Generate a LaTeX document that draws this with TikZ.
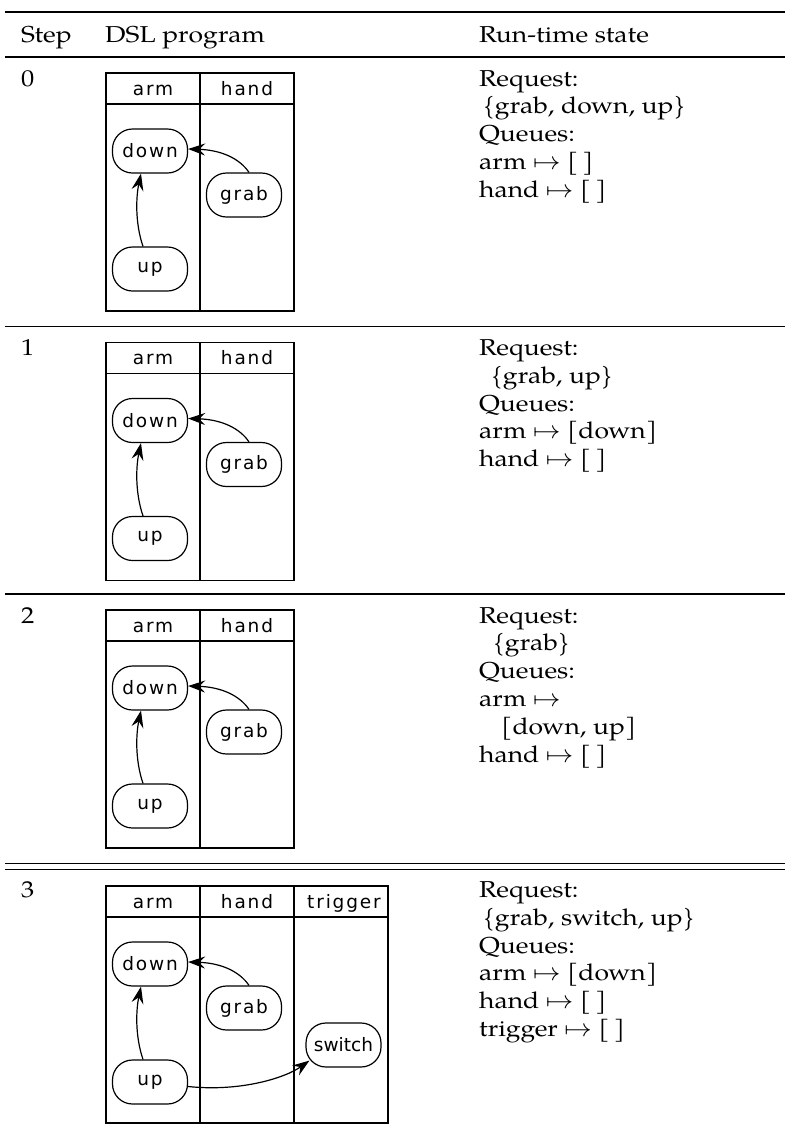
\documentclass[tikz,border=0pt]{standalone}
\usepackage{fontspec}
\usepackage{graphicx}
\setmainfont[FakeStretch=1.15]{TeX Gyre Pagella}
\newfontfamily\lanefont[LetterSpace=10]{DejaVu Sans}
\newfontfamily\tightlanefont{DejaVu Sans}
\usetikzlibrary{arrows.meta}

\newcommand\qmap{\scalebox{1.1}[1]{$\mapsto$}}

\tikzset{
  lane/.style={line width=1.4pt},
  act/.style={draw, line width=1.2pt, rounded corners=20pt, minimum width=75pt,
    minimum height=44pt, inner sep=0pt, font=\lanefont\fontsize{18.5}{20}\selectfont},
  lanehead/.style={anchor=base, inner sep=0pt, font=\lanefont\fontsize{18.5}{20}\selectfont},
  flow/.style={line width=1.2pt, -{Stealth[length=17pt,width=12pt,inset=6pt]}},
  cell/.style={anchor=base west, inner sep=0pt, font=\fontsize{23}{27.8}\selectfont},
  toprule/.style={line width=2pt},
  midrule/.style={line width=1.6pt},
  thinrule/.style={line width=1.3pt}
}

% swim-lane diagram with the arm and hand lanes; #1 = top edge, #2 = suffix
\newcommand\armhandlanes[2]{%
  \node[act] (down#2) at (150,#1+78) {down};
  \node[act] (grab#2) at (244,#1+122) {grab};
  \node[act] (up#2) at (150,#1+196) {up};
  \node[lanehead] (arm#2) at (153,#1+22) {arm};
  \node[lanehead] (hand#2) at (247,#1+22) {hand};
  \draw[flow] ([xshift=-7pt]up#2.north) .. controls (135,#1+150) and (136,#1+124) .. ([xshift=-9pt]down#2.south);
  \draw[flow] ([xshift=5pt]grab#2.north) .. controls (240,#1+86) and (222,#1+77) .. ([yshift=2pt]down#2.east);
}

\begin{document}
\begin{tikzpicture}[x=1pt,y=-1pt]
\useasboundingbox (0,0) rectangle (785,1133);

% table rules
\draw[toprule] (5,11.5) -- (785,11.5);
\draw[midrule] (5,57) -- (785,57);
\draw[midrule] (5,326.5) -- (785,326.5);
\draw[midrule] (5,594) -- (785,594);
\draw[thinrule] (5,863.5) -- (785,863.5);
\draw[thinrule] (5,869.5) -- (785,869.5);

% header
\node[cell] (hstep) at (21,42) {Step};
\node[cell] (hdsl) at (105,42) {DSL program};
\node[cell] (hstate) at (479,42) {Run-time state};

% step 0
\node[cell] (n0) at (21,86) {0};
\draw[lane] (106,73) rectangle (294,311);
\draw[lane] (106,104) -- (294,104);
\draw[lane] (200,73) -- (200,311);
\armhandlanes{73}{a}
\node[cell] (r0a) at (479,86) {Request:};
\node[cell] (r0b) at (483,113.8) {\{grab, down, up\}};
\node[cell] (r0c) at (479,141.6) {Queues:};
\node[cell] (r0d) at (479,169.4) {arm \qmap{} [\,]};
\node[cell] (r0e) at (479,197.2) {hand \qmap{} [\,]};

% step 1
\node[cell] (n1) at (21,355.5) {1};
\draw[lane] (106,342.5) rectangle (294,580.5);
\draw[lane] (106,373.5) -- (294,373.5);
\draw[lane] (200,342.5) -- (200,580.5);
\armhandlanes{342.5}{b}
\node[cell] (r1a) at (479,355.5) {Request:};
\node[cell] (r1b) at (491,383.3) {\{grab, up\}};
\node[cell] (r1c) at (479,411.1) {Queues:};
\node[cell] (r1d) at (479,438.9) {arm \qmap{} [down]};
\node[cell] (r1e) at (479,466.7) {hand \qmap{} [\,]};

% step 2
\node[cell] (n2) at (21,623) {2};
\draw[lane] (106,610) rectangle (294,848);
\draw[lane] (106,641) -- (294,641);
\draw[lane] (200,610) -- (200,848);
\armhandlanes{610}{c}
\node[cell] (r2a) at (479,623) {Request:};
\node[cell] (r2b) at (493,650.8) {\{grab\}};
\node[cell] (r2c) at (479,678.6) {Queues:};
\node[cell] (r2d) at (479,706.4) {arm \qmap};
\node[cell] (r2e) at (501,734.2) {[down, up]};
\node[cell] (r2f) at (479,762) {hand \qmap{} [\,]};

% step 3
\node[cell] (n3) at (21,897.5) {3};
\draw[lane] (106,886) rectangle (388,1123);
\draw[lane] (106,917) -- (388,917);
\draw[lane] (200,886) -- (200,1123);
\draw[lane] (294,886) -- (294,1123);
\armhandlanes{886}{d}
\node[lanehead] (trigd) at (344,908) {trigger};
\node[act, font=\tightlanefont\fontsize{18.5}{20}\selectfont] (switchd) at (343.5,1045) {switch};
\draw[flow] ([yshift=-4.5pt]upd.east) .. controls (240,1092) and (285,1078) .. ([xshift=4pt,yshift=7pt]switchd.south west);
\node[cell] (r3a) at (479,897.5) {Request:};
\node[cell] (r3b) at (483,925.3) {\{grab, switch, up\}};
\node[cell] (r3c) at (479,953.1) {Queues:};
\node[cell] (r3d) at (479,980.9) {arm \qmap{} [down]};
\node[cell] (r3e) at (479,1008.7) {hand \qmap{} [\,]};
\node[cell] (r3f) at (479,1036.5) {trigger \qmap{} [\,]};
\end{tikzpicture}
\end{document}
